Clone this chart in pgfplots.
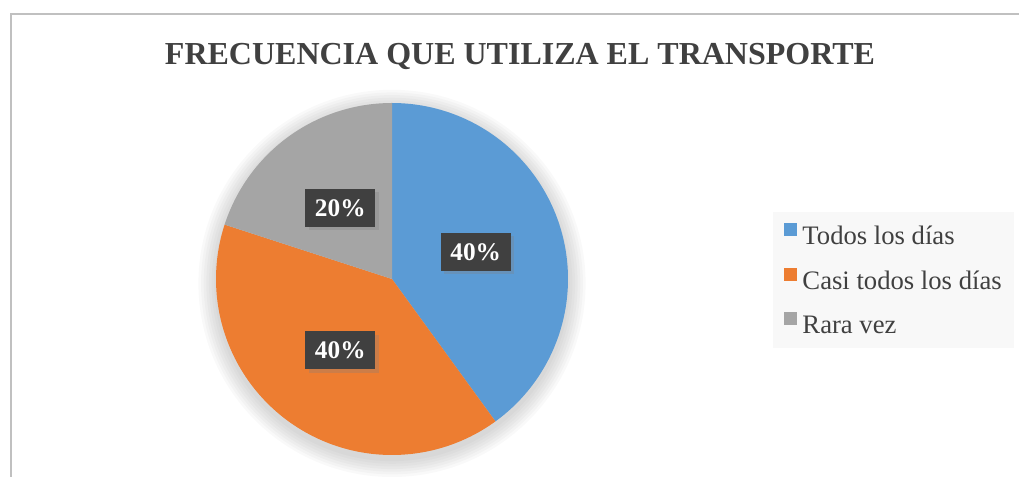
\documentclass[border=0pt]{standalone}
\usepackage{pgfplots}
\pgfplotsset{compat=1.18}
\usepackage{pgfplotstable}
\usepackage{fontspec}
\setmainfont{Liberation Serif}
\usetikzlibrary{shadows}
\definecolor{pieblue}{HTML}{5B9BD5}
\definecolor{pieorange}{HTML}{ED7D31}
\definecolor{piegray}{HTML}{A5A5A5}
\definecolor{txtgray}{HTML}{404040}
\definecolor{framegray}{HTML}{C0C0C0}
\definecolor{legbg}{HTML}{F8F8F8}
\definecolor{lblbg}{HTML}{404040}

\pgfplotstableread{
label value
Todos 40
Casi 40
Rara 20
}\piedata

\begin{document}
\begin{tikzpicture}
\useasboundingbox (0,0) rectangle (764.25pt,357.75pt);
\draw[framegray, line width=1.3pt] (8.25pt,-10pt) -- (8.25pt,347.25pt) -- (790pt,347.25pt);
\node[font=\bfseries\fontsize{24}{28}\selectfont, text=txtgray] at (390pt,315pt) {FRECUENCIA QUE UTILIZA EL TRANSPORTE};

\pgfplotstablegetelem{0}{value}\of\piedata \pgfmathsetmacro\valA{\pgfplotsretval}
\pgfplotstablegetelem{1}{value}\of\piedata \pgfmathsetmacro\valB{\pgfplotsretval}
\pgfplotstablegetelem{2}{value}\of\piedata \pgfmathsetmacro\valC{\pgfplotsretval}
\pgfmathsetmacro\valT{\valA+\valB+\valC}
\pgfmathsetmacro\angZ{90}
\pgfmathsetmacro\angA{90-360*\valA/\valT}
\pgfmathsetmacro\angB{\angA-360*\valB/\valT}
\pgfmathsetmacro\angC{\angB-360*\valC/\valT}
\pgfmathsetmacro\midA{(\angZ+\angA)/2}
\pgfmathsetmacro\midB{(\angA+\angB)/2}
\pgfmathsetmacro\midC{(\angB+\angC)/2}

\begin{axis}[
  at={(294pt,148.5pt)}, anchor=center,
  width=264pt, height=264pt, scale only axis,
  xmin=-1, xmax=1, ymin=-1, ymax=1,
  hide axis, clip=false,
  legend style={at={(1.582,0.690)}, anchor=north west, fill=legbg, draw=none,
    font=\fontsize{20}{24}\selectfont, text=txtgray, inner xsep=8pt, inner ysep=8pt,
    row sep=14.5pt, nodes={inner sep=1pt}},
  legend cell align=left,
  legend image code/.code={\fill[#1] (0pt,0.5pt) rectangle (9.75pt,10.25pt); \path (13pt,0pt);},
]
\pgfplotsinvokeforeach{1.01,1.025,1.04,1.055,1.07,1.085,1.1}{
  \fill[black, opacity=0.025] (axis cs:0,-0.025) circle[radius=#1];
}
\addplot[fill=pieblue, draw=none, domain=\angA:\angZ, samples=120] ({cos(x)},{sin(x)}) -- (axis cs:0,0) -- cycle;
\addlegendentry{Todos los días}
\addplot[fill=pieorange, draw=none, domain=\angB:\angA, samples=120] ({cos(x)},{sin(x)}) -- (axis cs:0,0) -- cycle;
\addlegendentry{Casi todos los días}
\addplot[fill=piegray, draw=none, domain=\angC:\angB, samples=80] ({cos(x)},{sin(x)}) -- (axis cs:0,0) -- cycle;
\addlegendentry{Rara vez}
\tikzset{lbl/.style={fill=lblbg, text=white, font=\bfseries\fontsize{19}{22}\selectfont,
  minimum width=52.5pt, minimum height=28.5pt, inner sep=0pt,
  drop shadow={shadow xshift=2.5pt, shadow yshift=-2.5pt, opacity=0.3}}}
\node[lbl] at (axis cs:{0.5*cos(\midA)},{0.5*sin(\midA)}) {40\%};
\node[lbl] at (axis cs:{0.5*cos(\midB)},{0.5*sin(\midB)}) {40\%};
\node[lbl] at (axis cs:{0.5*cos(\midC)},{0.5*sin(\midC)}) {20\%};
\end{axis}
\end{tikzpicture}
\end{document}
